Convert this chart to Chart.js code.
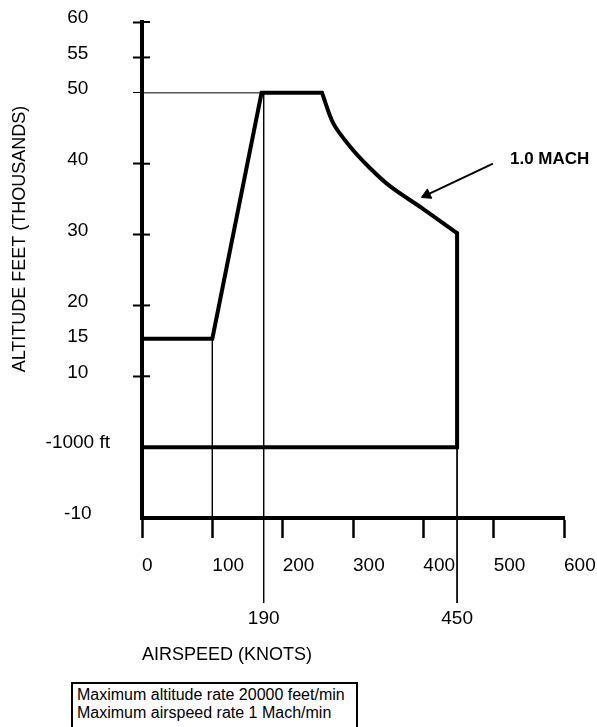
<!DOCTYPE html>
<html>
<head>
<meta charset="utf-8">
<script src="https://cdn.jsdelivr.net/npm/chart.js@4"></script>
<style>
  html, body { margin: 0; padding: 0; background: #fff; overflow: hidden; }
  #wrap { position: relative; width: 597px; height: 727px; }
  #envelope { display: block; }
  #note {
    position: absolute; left: 71px; top: 682px; width: 279px; height: 50px;
    border: 2px solid #000; padding: 2px 0 0 4px; color: #000;
    font: 16px/18px 'Liberation Sans', Arial, sans-serif; white-space: nowrap;
  }
</style>
</head>
<body>
<div id="wrap">
  <canvas id="envelope" width="597" height="680"></canvas>
  <div id="note">Maximum altitude rate 20000 feet/min<br>Maximum airspeed rate 1 Mach/min</div>
</div>
<script>
// axis ticks
var speedTicks = [0, 100, 200, 300, 400, 500, 600];
var altTicks = [60, 55, 50, 40, 30, 20, 15, 10, 0, -10];
var altLabels = ['60', '55', '50', '40', '30', '20', '15', '10', '-1000 ft', '-10'];
var markedAlts = [60, 55, 40, 30, 20, 10];

// flight envelope (knots / thousands of feet)
// climb side and ceiling
var climbEdgeSpeed = [0, 100, 170, 256];
var climbEdgeAlt = [15.3, 15.3, 50, 50];
// 1.0 mach limit
var machEdgeSpeed = [256, 272, 296, 324, 353, 400, 448];
var machEdgeAlt = [50, 45.7, 42.4, 39.4, 36.8, 33.6, 30.2];
// max speed and floor
var floorEdgeSpeed = [448, 448, 0];
var floorEdgeAlt = [30.2, 0, 0];

// thin reference lines
var ceilingSpeed = [0, 170];
var ceilingAlt = [50, 50];
var climbSpeed = [100, 100];
var climbAlt = [15.3, -10];
var peakSpeed = [173, 173];
var peakAlt = [50, -22];
var maxSpeed = [448, 448];
var maxAlt = [0, -22];

// labels under the reference lines
var markerSpeeds = [173, 448];
var markerLabels = ['190', '450'];

// 1.0 mach pointer
var machArrowSpeed = [499, 405];
var machArrowAlt = [40, 35.6];
var machLabel = '1.0 MACH';

var FONT = "'Liberation Sans', Arial, Helvetica, sans-serif";
Chart.defaults.font.family = FONT;
Chart.defaults.color = '#000';

function pts(xs, ys) {
  return xs.map(function (x, i) { return { x: x, y: ys[i] }; });
}

function thick(xs, ys, bend) {
  return {
    data: pts(xs, ys), showLine: true, borderColor: '#000', borderWidth: 4,
    borderJoinStyle: 'miter', borderCapStyle: 'round', pointRadius: 0,
    tension: bend, clip: false
  };
}

function thin(xs, ys) {
  return {
    data: pts(xs, ys), showLine: true, borderColor: '#000', borderWidth: 1,
    pointRadius: 0, clip: false
  };
}

var extras = {
  id: 'extras',
  afterDraw: function (chart) {
    var ctx = chart.ctx, xs = chart.scales.x, ys = chart.scales.y;
    ctx.save();
    // inner half of the altitude ticks
    ctx.strokeStyle = '#000';
    ctx.lineWidth = 2;
    markedAlts.forEach(function (v) {
      var py = ys.getPixelForValue(v);
      ctx.beginPath();
      ctx.moveTo(xs.left, py);
      ctx.lineTo(xs.left + 8, py);
      ctx.stroke();
    });
    // 1.0 mach label next to the arrow tail
    ctx.fillStyle = '#000';
    ctx.font = 'bold 17px ' + FONT;
    ctx.textAlign = 'left';
    ctx.textBaseline = 'middle';
    ctx.fillText(machLabel, xs.getPixelForValue(machArrowSpeed[0]) + 17,
      ys.getPixelForValue(machArrowAlt[0]) - 4);
    // altitude title
    ctx.font = '18px ' + FONT;
    ctx.textAlign = 'center';
    ctx.translate(20, 239);
    ctx.rotate(-Math.PI / 2);
    ctx.fillText('ALTITUDE FEET (THOUSANDS)', 0, 0);
    ctx.restore();
  }
};

new Chart(document.getElementById('envelope'), {
  type: 'scatter',
  data: {
    datasets: [
      thick(climbEdgeSpeed, climbEdgeAlt, 0),
      thick(machEdgeSpeed, machEdgeAlt, 0.3),
      thick(floorEdgeSpeed, floorEdgeAlt, 0),
      thin(ceilingSpeed, ceilingAlt),
      thin(climbSpeed, climbAlt),
      thin(peakSpeed, peakAlt),
      thin(maxSpeed, maxAlt),
      {
        data: pts(machArrowSpeed, machArrowAlt), showLine: true, borderColor: '#000',
        borderWidth: 2, pointStyle: 'triangle', rotation: -115,
        pointRadius: function (c) { return c.dataIndex === 1 ? 6 : 0; },
        pointBackgroundColor: '#000', pointBorderColor: '#000', pointBorderWidth: 1,
        clip: false
      }
    ]
  },
  options: {
    responsive: false,
    animation: false,
    events: [],
    layout: { padding: { top: 22, right: 33, bottom: 10, left: 0 } },
    plugins: { legend: { display: false }, tooltip: { enabled: false } },
    scales: {
      x: {
        type: 'linear', min: 0, max: 600,
        afterBuildTicks: function (s) { s.ticks = speedTicks.map(function (v) { return { value: v }; }); },
        afterFit: function (s) { s.height = 70; s.paddingLeft = 0; s.paddingRight = 0; },
        border: { display: true, color: '#000', width: 4 },
        grid: { drawOnChartArea: false, drawTicks: true, tickLength: 20, tickWidth: 2.5, tickColor: '#000' },
        ticks: { align: 'start', padding: 16, font: { size: 19 }, color: '#000', autoSkip: false, maxRotation: 0 }
      },
      x2: {
        type: 'linear', position: 'bottom', min: 0, max: 600, weight: 1,
        afterBuildTicks: function (s) { s.ticks = markerSpeeds.map(function (v) { return { value: v }; }); },
        afterFit: function (s) { s.height = 82; s.paddingLeft = 0; s.paddingRight = 0; },
        border: { display: false },
        grid: { display: false, drawTicks: false },
        ticks: {
          callback: function (v, i) { return markerLabels[i]; },
          padding: 19, font: { size: 19 }, color: '#000', autoSkip: false, maxRotation: 0
        },
        title: {
          display: true, text: 'AIRSPEED (KNOTS)', align: 'start', color: '#000',
          font: { size: 18 }, padding: { top: 0, bottom: 4 }
        }
      },
      y: {
        type: 'linear', min: -10, max: 60,
        afterBuildTicks: function (s) { s.ticks = altTicks.map(function (v) { return { value: v }; }); },
        afterFit: function (s) { s.width = 142; s.paddingTop = 0; s.paddingBottom = 0; },
        border: { display: true, color: '#000', width: 4 },
        grid: {
          drawOnChartArea: false, tickLength: 9,
          tickWidth: function (c) { return c.tick && c.tick.value === 50 ? 1 : 2; },
          tickColor: function (c) {
            var v = c.tick ? c.tick.value : null;
            return (markedAlts.indexOf(v) >= 0 || v === 50) ? '#000' : 'rgba(0,0,0,0)';
          }
        },
        ticks: {
          callback: function (v, i) { return altLabels[i]; },
          crossAlign: 'center', padding: 23, labelOffset: -4,
          font: { size: 19 }, color: '#000', autoSkip: false
        }
      }
    }
  },
  plugins: [extras]
});
</script>
</body>
</html>
